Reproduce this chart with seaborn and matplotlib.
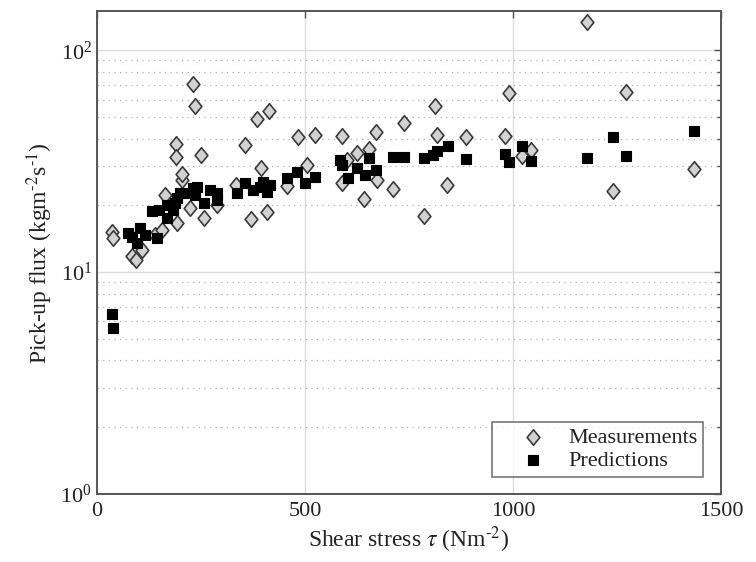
import numpy as np
import pandas as pd
import matplotlib
matplotlib.use("Agg")
import matplotlib.pyplot as plt
import seaborn as sns
from matplotlib.path import Path
from matplotlib.ticker import LogLocator, NullFormatter

meas_tau = [36, 38, 84, 94, 108, 139, 156, 192, 224, 257, 288, 163, 204, 231, 236,
            190, 190, 250, 204, 356, 385, 413, 394, 370, 409, 334, 457, 483, 505,
            524, 589, 589, 625, 654, 671, 642, 673, 601, 738, 813, 817, 887, 981,
            990, 1043, 1022, 1178, 1272, 1435, 1240, 712, 841, 786]
meas_flux = [15.1, 14.2, 11.8, 11.4, 12.6, 14.7, 15.5, 16.6, 19.4, 17.5, 20.0, 22.2,
             26.0, 70.3, 56.0, 37.7, 33.0, 33.6, 27.6, 37.3, 48.9, 53.1, 29.4, 17.3,
             18.6, 24.6, 24.4, 40.6, 30.3, 41.4, 41.0, 25.2, 34.4, 35.8, 42.7, 21.3,
             26.0, 32.0, 46.9, 56.0, 41.4, 40.6, 41.0, 64.0, 35.4, 33.3, 133.7, 64.7,
             29.1, 23.2, 23.6, 24.6, 17.9]

# Model predictions
pred_tau = [36, 38, 84, 103, 96, 75, 115, 144, 149, 168, 168, 192, 216, 240, 257,
            288, 288, 183, 200, 231, 337, 356, 375, 392, 399, 409, 416, 457, 481,
            500, 524, 589, 603, 625, 644, 654, 671, 584, 712, 738, 786, 808, 817,
            844, 887, 981, 990, 1022, 1043, 1178, 1240, 1272, 1435,
            132, 188, 236, 272]
pred_flux = [6.47, 5.6, 14.4, 15.8, 13.6, 15.0, 14.7, 14.2, 19.0, 20.0, 17.5, 21.5,
             22.7, 24.2, 20.5, 22.7, 21.1, 19.0, 22.7, 23.9, 22.7, 25.2, 23.4, 24.2,
             25.4, 23.0, 24.6, 26.5, 28.2, 25.2, 26.8, 30.3, 26.5, 29.4, 27.3, 32.6,
             28.8, 32.0, 33.0, 33.0, 32.6, 33.6, 35.1, 37.0, 32.3, 34.0, 31.3, 37.0,
             31.6, 32.6, 40.6, 33.3, 43.2,
             18.8, 20.5, 22.2, 23.4]

meas = pd.DataFrame({"tau": meas_tau, "flux": meas_flux})
pred = pd.DataFrame({"tau": pred_tau, "flux": pred_flux})

sns.set_style("white")
plt.rcParams["font.family"] = ["Liberation Serif", "DejaVu Serif"]
plt.rcParams["mathtext.fontset"] = "stix"
plt.rcParams["font.size"] = 16

text_col = "#222222"
frame_col = "#555555"

# slightly tall diamond
diamond = Path([(0, 1), (0.82, 0), (0, -1), (-0.82, 0), (0, 1)],
               [Path.MOVETO, Path.LINETO, Path.LINETO, Path.LINETO, Path.CLOSEPOLY])

fig = plt.figure(figsize=(7.56, 5.62), dpi=100)
ax = fig.add_axes([0.128, 0.121, 0.826, 0.859])

sns.scatterplot(data=meas, x="tau", y="flux", marker=diamond, s=125,
                color="#d2d2d2", edgecolor="#3a3a3a", linewidth=1.2,
                label="Measurements", ax=ax, zorder=3)
sns.scatterplot(data=pred, x="tau", y="flux", marker="s", s=62,
                color="black", edgecolor="black", linewidth=0.8,
                label="Predictions", ax=ax, zorder=4)

ax.set_yscale("log")
ax.set_xlim(0, 1500)
ax.set_ylim(1, 150)
ax.set_xticks([0, 500, 1000, 1500])
ax.yaxis.set_major_locator(LogLocator(base=10, numticks=10))
ax.yaxis.set_minor_locator(LogLocator(base=10, subs=np.arange(2, 10), numticks=10))
ax.yaxis.set_minor_formatter(NullFormatter())

ax.grid(True, which="major", color="#dcdcdc", linewidth=1.0, linestyle="-")
ax.grid(True, which="minor", axis="y", color="#b0b0b0", linewidth=0.9,
        linestyle=(0, (1, 3.5)))
ax.set_axisbelow(True)

ax.tick_params(which="both", direction="in", top=True, right=True,
               color=frame_col, labelcolor=text_col, labelsize=16)
ax.tick_params(which="major", length=5, width=1)
ax.tick_params(which="minor", length=3, width=1)
ax.tick_params(axis="x", which="major", pad=6)
for sp in ax.spines.values():
    sp.set_color(frame_col)
    sp.set_linewidth(1.4)

ax.set_xlabel(r"Shear stress $\tau$ (Nm$^{\text{-}2}$)", color=text_col,
              fontsize=17, labelpad=2)
ax.set_ylabel(r"Pick-up flux (kgm$^{\text{-}2}$s$^{\text{-}1}$)", color=text_col,
              fontsize=17, labelpad=4)

leg = ax.legend(loc="lower right", bbox_to_anchor=(0.971, 0.036), fontsize=16,
                frameon=True, fancybox=False, borderpad=0.25, handletextpad=0.0,
                labelspacing=0.1, borderaxespad=0, handlelength=3.2)
leg.get_frame().set_edgecolor(frame_col)
leg.get_frame().set_linewidth(1.2)
for t in leg.get_texts():
    t.set_color(text_col)

fig.savefig("out.png", dpi=100)
